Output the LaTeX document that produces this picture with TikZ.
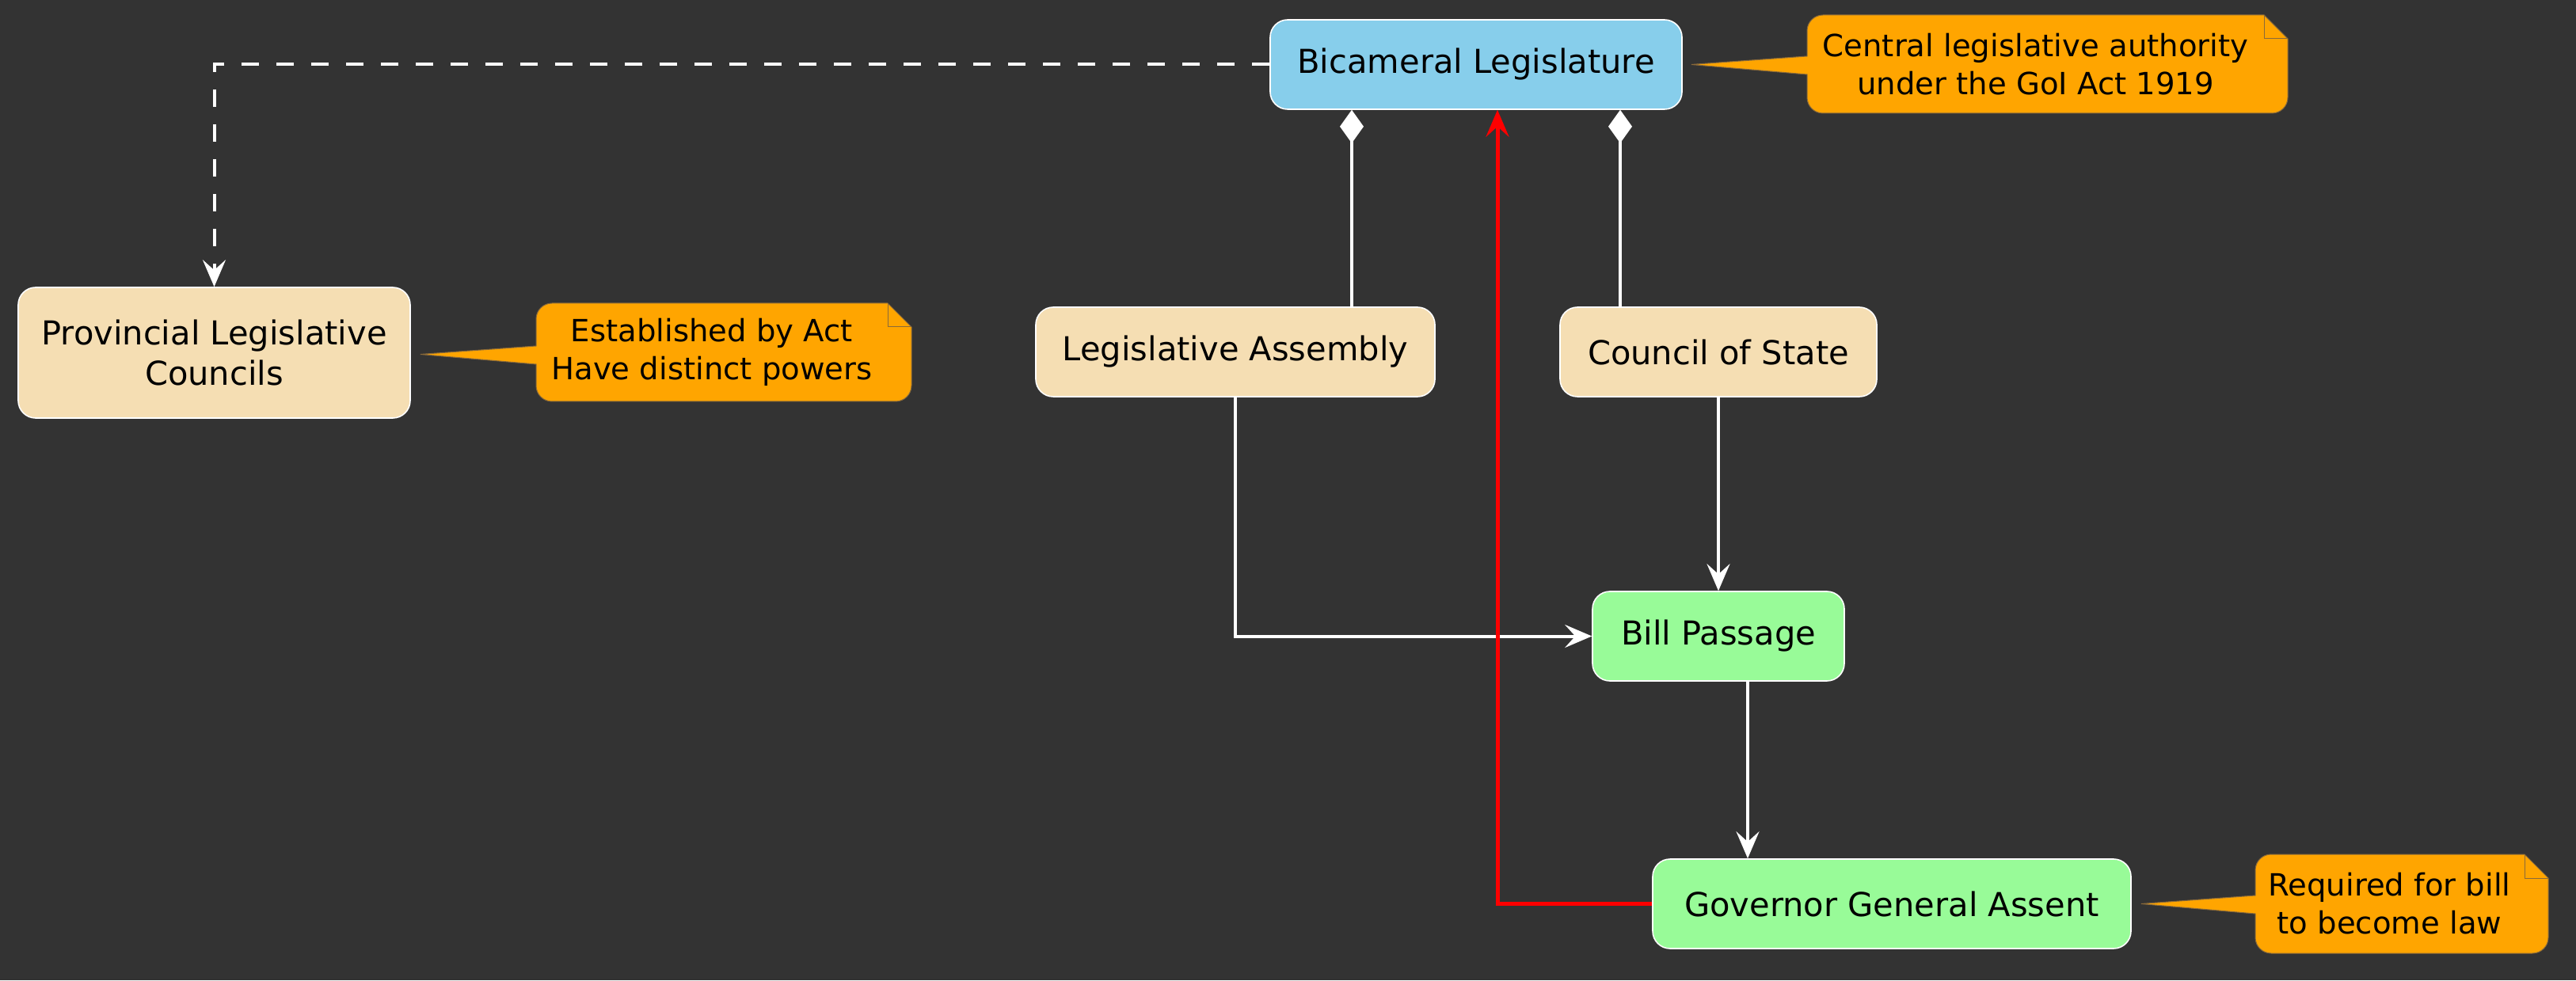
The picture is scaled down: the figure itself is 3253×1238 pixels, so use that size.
\documentclass[tikz,border=0pt]{standalone}
\usepackage{fontspec}
\setmainfont{DejaVu Sans}
\usetikzlibrary{arrows.meta,calc}
\definecolor{bg}{HTML}{333333}
\definecolor{skyb}{HTML}{87CEEB}
\definecolor{wheatc}{HTML}{F5DEB3}
\definecolor{paleg}{HTML}{98FB98}
\definecolor{notec}{HTML}{FFA500}
\definecolor{notebd}{HTML}{8A6A3A}
\definecolor{redc}{HTML}{FF0000}
\tikzset{
  box/.style={draw=white, line width=0.8pt, rounded corners=11pt, minimum height=56.5pt,
    inner sep=0pt, align=center, text=black,
    font=\fontsize{20.8pt}{25.5pt}\selectfont},
  notetext/.style={align=center, inner sep=0pt, text=black,
    font=\fontsize{19.3pt}{24pt}\selectfont},
  notestyle/.style={fill=notec, draw=notebd, line width=0.5pt, line join=miter},
  notefold/.style={draw=notebd, line width=0.5pt},
  conn/.style={draw=white, line width=2pt},
  arr/.style={-{Stealth[length=17pt,width=14.5pt,inset=6.5pt]}},
  diam/.style={{Diamond[length=21pt,width=15pt]}-},
  dashline/.style={dash pattern=on 11pt off 11pt}
}
\newcommand\drawnote[7]{%
  \filldraw[notestyle] (#7) -- (#1,#5) -- (#1,#3-20) arc[start angle=180,end angle=90,radius=10pt]
    -- (#2-30,#3) -- (#2,#3-30) -- (#2,#4+20) arc[start angle=0,end angle=-90,radius=10pt]
    -- (#1+20,#4) arc[start angle=270,end angle=180,radius=10pt] -- (#1,#6) -- cycle;
  \draw[notefold] (#2-30,#3) -- (#2-30,#3-30) -- (#2,#3-30);
}
\begin{document}
\begin{tikzpicture}[x=0.5pt,y=0.5pt]
\fill[bg] (0,0) rectangle (3253,1238);
\useasboundingbox (0,0) rectangle (3253,1238);

% nodes
\node[box, fill=skyb, minimum width=260pt] (BL) at (1864,1156.5) {Bicameral Legislature};
\node[box, fill=wheatc, minimum width=247.5pt, minimum height=82.5pt] (PLC) at (270.5,792.5) {Provincial Legislative\\Councils};
\node[box, fill=wheatc, minimum width=252pt] (LA) at (1560,793.5) {Legislative Assembly};
\node[box, fill=wheatc, minimum width=200pt] (CS) at (2170,793.5) {Council of State};
\node[box, fill=paleg, minimum width=159pt] (BP) at (2170,434.5) {Bill Passage};
\node[box, fill=paleg, minimum width=302pt] (GGA) at (2389,96.5) {Governor General Assent};

% helper coordinates for offset connectors
\coordinate (xa) at (1707,0);
\coordinate (xc) at (2046,0);
\coordinate (xb) at (2207,0);
\coordinate (xr) at (1891,0);

% connectors
\draw[conn, dashline, arr] (BL.west) -| (PLC.north);
\draw[conn, diam] (BL.south -| xa) -- (LA.north -| xa);
\draw[conn, diam] (BL.south -| xc) -- (CS.north -| xc);
\draw[conn, arr] (LA.south) |- (BP.west);
\draw[conn, arr] (CS.south) -- (BP.north);
\draw[conn, arr] (BP.south -| xb) -- (GGA.north -| xb);
\draw[draw=redc, line width=2.5pt, -{Stealth[length=17pt,width=14.5pt,inset=6.5pt]}] (GGA.west) -| (BL.south -| xr);

% notes
\coordinate (t1) at ($(BL.east)+(11,0)$);
\coordinate (t2) at ($(PLC.east)+(12,-2)$);
\coordinate (t4) at ($(GGA.east)+(12,0)$);
\drawnote{2282}{2889}{1219}{1095}{1167}{1144}{t1}
\drawnote{677}{1151}{855}{731}{801}{778}{t2}
\drawnote{2848}{3218}{159}{34}{107}{84}{t4}
\node[notetext] (N1) at (2570.5,1157) {Central legislative authority\\under the GoI Act 1919};
\node[notetext] (N2) at (899,793) {Established by Act\\Have distinct powers};
\node[notetext] (N4) at (3017.5,96.5) {Required for bill\\to become law};
\end{tikzpicture}
\end{document}
